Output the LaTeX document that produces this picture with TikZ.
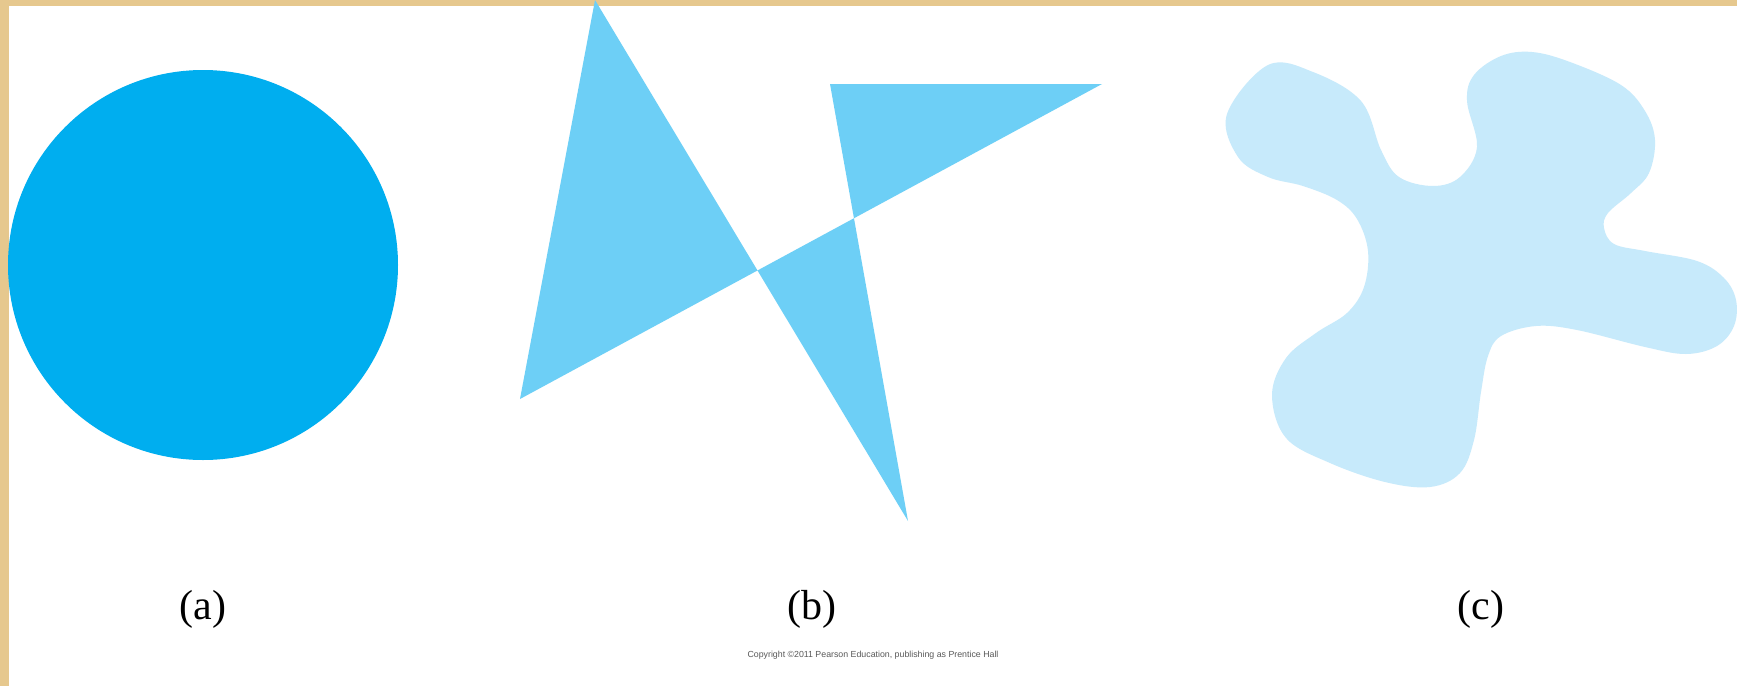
\documentclass[tikz,border=0pt]{standalone}
\usepackage{fontspec}
\setmainfont{Liberation Serif}
\newfontfamily\notefont{Liberation Sans}
\usepackage{tikz}
\usetikzlibrary{positioning}
\definecolor{frametan}{HTML}{E6C88E}
\definecolor{circblue}{HTML}{00AEEF}
\definecolor{starblue}{HTML}{6DCFF6}
\definecolor{blobblue}{HTML}{C7EAFB}

\begin{document}
\begin{tikzpicture}[
    x=1pt, y=-1pt,
    label/.style={inner sep=0pt, font=\fontsize{42}{48}\selectfont},
    note/.style={inner sep=0pt, text=black!65, font=\notefont\fontsize{8.8}{10}\selectfont}
  ]
    % page and frame
    \fill[white] (0,0) rectangle (1737,686);
    \useasboundingbox (0,0) rectangle (1737,686);
    \fill[frametan] (0,0) rectangle (1737,6);
    \fill[frametan] (0,0) rectangle (9,686);
    % (a) circle
    \fill[circblue] (203,265) circle[radius=195];
    % (b) crossed polygon
    \fill[starblue, even odd rule] (595,0) -- (908,521) -- (830,84) -- (1102,84) -- (520,399) -- cycle;
    % (c) blob
    \fill[blobblue] plot[smooth cycle, tension=0.6] coordinates {
      (1227,114) (1268,65) (1313,72) (1361,101) (1381,150) (1399,177)
      (1433,186) (1460,177) (1477,147) (1467,101) (1474,75) (1501,56)
      (1532,52) (1570,62) (1621,85) (1645,111) (1655,140) (1649,173)
      (1631,193) (1608,213) (1604,228) (1614,244) (1645,251) (1697,261)
      (1724,278) (1736,300) (1734,326) (1717,346) (1686,354) (1645,347)
      (1577,330) (1536,326) (1501,336) (1488,356) (1481,392) (1474,440)
      (1460,473) (1430,487) (1385,482) (1330,463) (1286,438) (1272,395)
      (1286,358) (1316,333) (1347,313) (1364,287) (1368,251) (1357,219)
      (1337,200) (1303,186) (1268,177) (1238,157)
    };
    \node[label] (lbla) at (203,609) {(a)};
    \node[label] (lblb) at (812,609) {(b)};
    \node[label] (lblc) at (1481,609) {(c)};
    \node[note] (copyright) at (873,655) {Copyright ©2011 Pearson Education, publishing as Prentice Hall};
  \end{tikzpicture}
\end{document}
